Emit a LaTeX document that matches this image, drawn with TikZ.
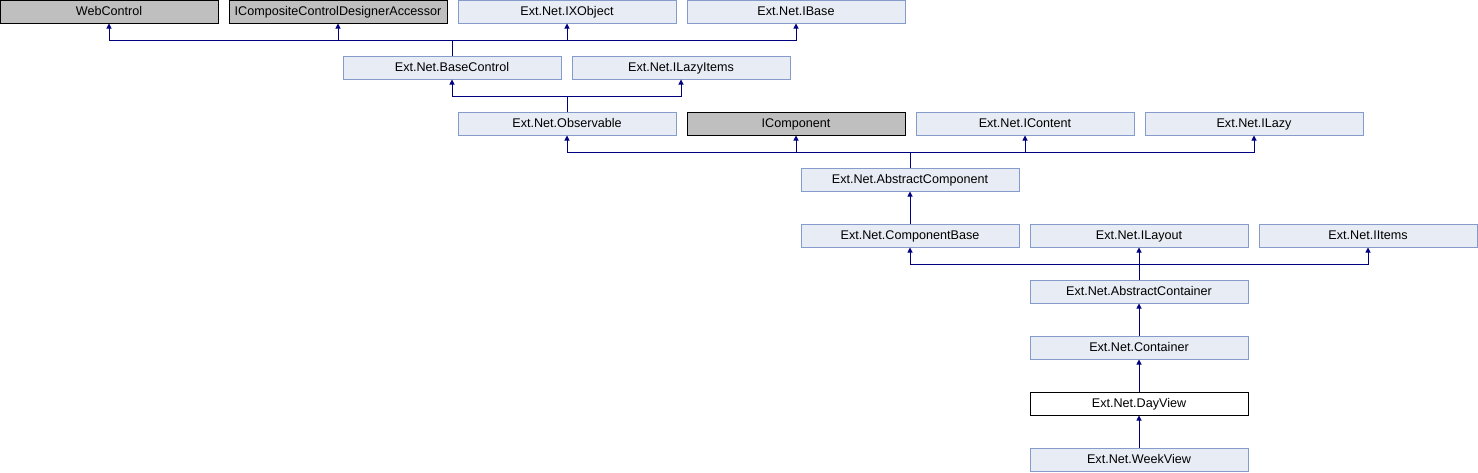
\documentclass[tikz,border=0pt]{standalone}
\usepackage{fontspec}
\setmainfont{Liberation Sans}
\usetikzlibrary{arrows.meta}
\definecolor{bfill}{RGB}{232,236,245}
\definecolor{bdraw}{RGB}{132,155,203}
\definecolor{gfill}{RGB}{191,191,191}
\definecolor{navyc}{RGB}{0,0,128}
\begin{document}
\begin{tikzpicture}[x=1pt,y=-1pt,
  box/.style={draw=bdraw,fill=bfill,line width=1pt,minimum width=218pt,minimum height=23pt,inner sep=0pt,text height=9pt,text depth=1pt,font=\fontsize{12.6}{14}\selectfont},
  gbox/.style={box,draw=black,fill=gfill},
  wbox/.style={box,draw=black,fill=white},
  inh/.style={draw=navyc,line width=1pt,-{Triangle[width=5pt,length=5pt]}}]
\useasboundingbox (0,0) rectangle (1478,472);
% row 1
\node[gbox] (webc) at (109,11.5) {WebControl};
\node[gbox] (icc) at (338,11.5) {ICompositeControlDesignerAccessor};
\node[box] (ixo) at (567,11.5) {Ext.Net.IXObject};
\node[box] (ibase) at (796,11.5) {Ext.Net.IBase};
% row 2
\node[box] (bc) at (452,67.5) {Ext.Net.BaseControl};
\node[box] (ili) at (681,67.5) {Ext.Net.ILazyItems};
% row 3
\node[box] (obs) at (567,123.5) {Ext.Net.Observable};
\node[gbox] (icomp) at (796,123.5) {IComponent};
\node[box] (icont) at (1025,123.5) {Ext.Net.IContent};
\node[box] (ilazy) at (1254,123.5) {Ext.Net.ILazy};
% row 4
\node[box] (ac) at (910,179.5) {Ext.Net.AbstractComponent};
% row 5
\node[box] (cb) at (910,235.5) {Ext.Net.ComponentBase};
\node[box] (ilay) at (1139,235.5) {Ext.Net.ILayout};
\node[box] (iitems) at (1368,235.5) {Ext.Net.IItems};
% rows 6-9
\node[box] (acont) at (1139,291.5) {Ext.Net.AbstractContainer};
\node[box] (cont) at (1139,347.5) {Ext.Net.Container};
\node[wbox] (day) at (1139,403.5) {Ext.Net.DayView};
\node[box] (week) at (1139,459.5) {Ext.Net.WeekView};
% connectors
\coordinate (b1) at (452,40);
\draw[navyc,line width=1pt] (bc.north) -- (b1);
\foreach \t in {webc,icc,ixo,ibase}
  \draw[inh] (b1) -| (\t.south);
\coordinate (b2) at (567,96);
\draw[navyc,line width=1pt] (obs.north) -- (b2);
\foreach \t in {bc,ili}
  \draw[inh] (b2) -| (\t.south);
\coordinate (b3) at (910,152);
\draw[navyc,line width=1pt] (ac.north) -- (b3);
\foreach \t in {obs,icomp,icont,ilazy}
  \draw[inh] (b3) -| (\t.south);
\draw[inh] (cb) -- (ac);
\coordinate (b5) at (1139,264);
\draw[navyc,line width=1pt] (acont.north) -- (b5);
\foreach \t in {cb,ilay,iitems}
  \draw[inh] (b5) -| (\t.south);
\draw[inh] (cont) -- (acont);
\draw[inh] (day) -- (cont);
\draw[inh] (week) -- (day);
\end{tikzpicture}
\end{document}
